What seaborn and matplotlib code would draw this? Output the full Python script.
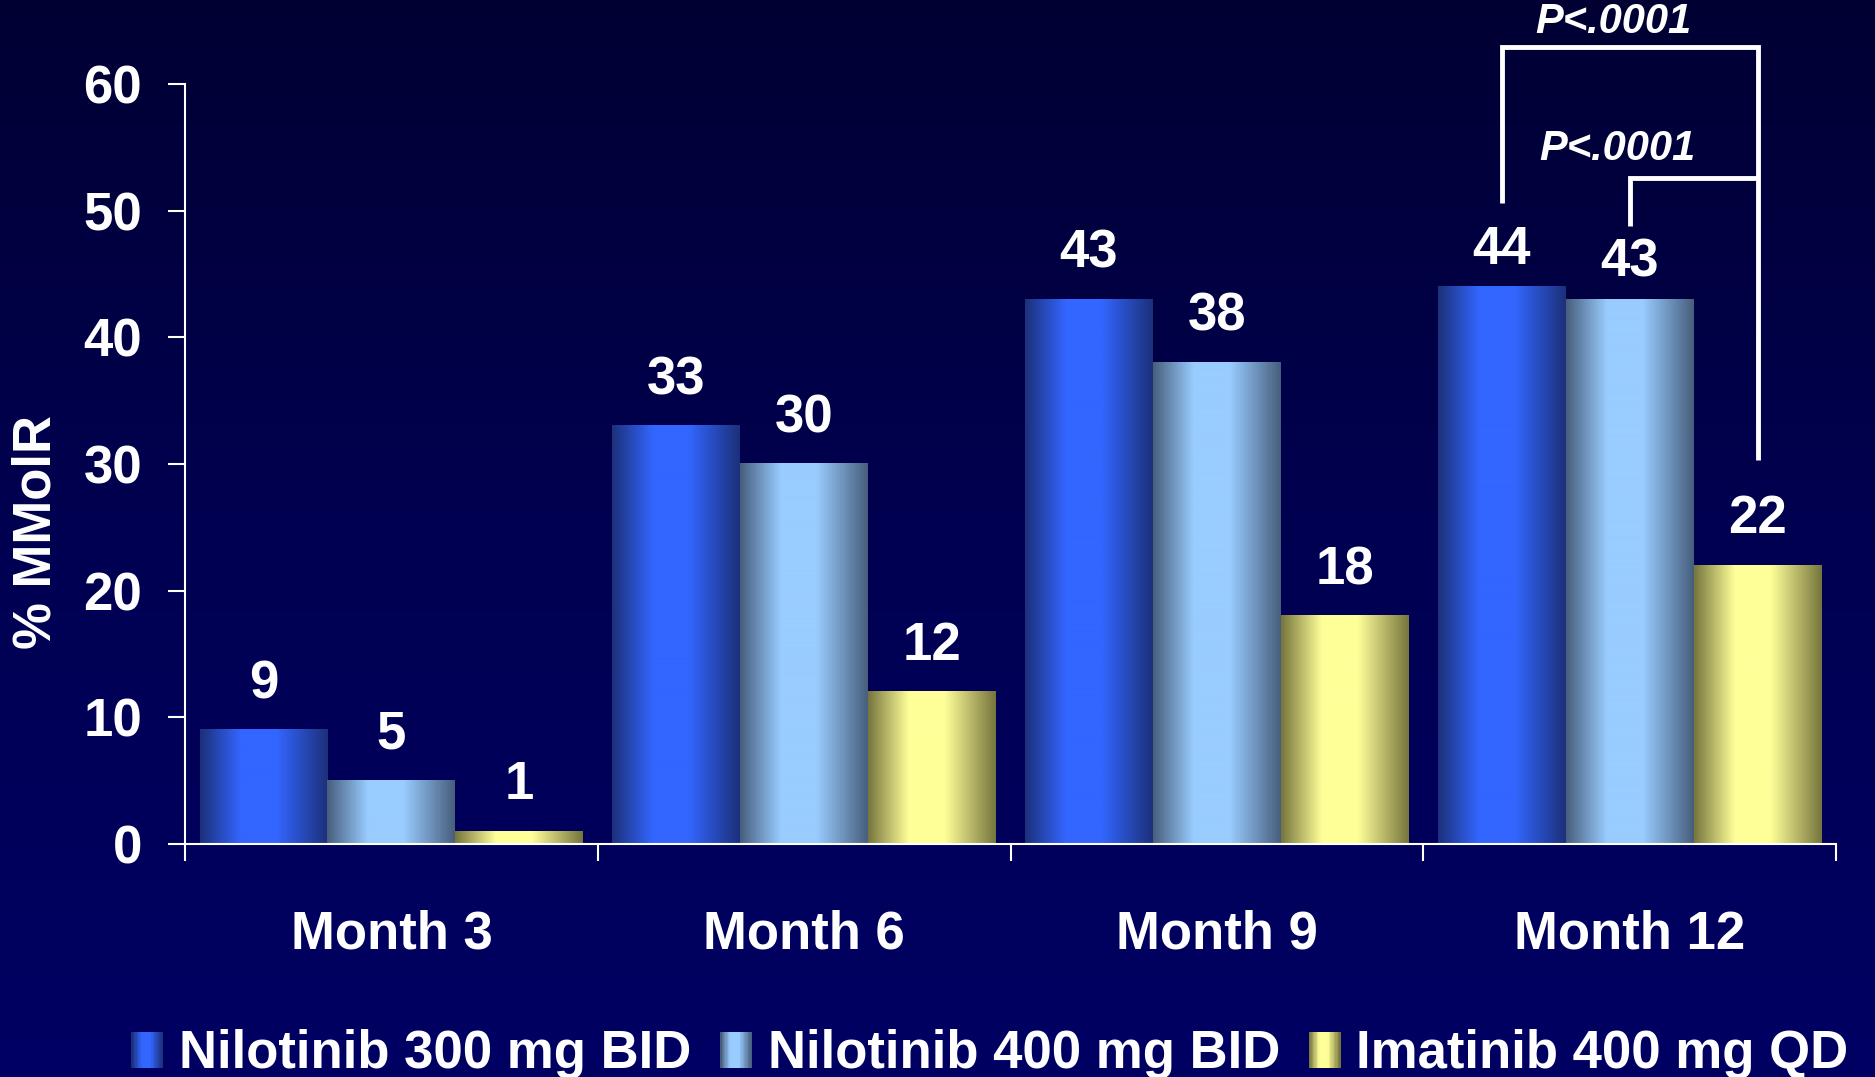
import numpy as np
import pandas as pd
import matplotlib
matplotlib.use("Agg")
import matplotlib.pyplot as plt
import seaborn as sns
from matplotlib.patches import Rectangle, Patch
from matplotlib.legend_handler import HandlerBase

# ---- data -------------------------------------------------------------
months = ["Month 3", "Month 6", "Month 9", "Month 12"]
regimens = ["Nilotinib 300 mg BID", "Nilotinib 400 mg BID", "Imatinib 400 mg QD"]
nilotinib_300 = [9, 33, 43, 44]
nilotinib_400 = [5, 30, 38, 43]
imatinib_400 = [1, 12, 18, 22]
y_ticks = [0, 10, 20, 30, 40, 50, 60]
y_label = "% MMolR"
p_label = "P<.0001"

df = pd.DataFrame({
    "month": months * 3,
    "regimen": np.repeat(regimens, len(months)),
    "value": nilotinib_300 + nilotinib_400 + imatinib_400,
})

# ---- style ------------------------------------------------------------
sns.set_style("white")
plt.rcParams["font.family"] = ["Liberation Sans", "DejaVu Sans"]
plt.rcParams["font.weight"] = "bold"
plt.rcParams["axes.labelweight"] = "bold"

FS = 38
WHITE = "white"

# edge colour / centre colour of each cylinder-like bar
shades = [
    ((0.11, 0.19, 0.48), (0.20, 0.40, 1.00)),
    ((0.28, 0.37, 0.49), (0.60, 0.80, 1.00)),
    ((0.46, 0.46, 0.24), (1.00, 1.00, 0.60)),
]


def shade_profile(n):
    x = np.linspace(0, 1, n)
    return np.interp(x, [0.0, 0.32, 0.60, 1.0], [0.0, 1.0, 1.0, 0.0])


def shade_row(edge, centre, n=256):
    t = shade_profile(n)[:, None]
    edge = np.array(edge)[None, :]
    centre = np.array(centre)[None, :]
    return (edge + (centre - edge) * t)[None, :, :]


class GradientHandler(HandlerBase):
    def __init__(self, edge, centre):
        super().__init__()
        self.edge = edge
        self.centre = centre

    def create_artists(self, legend, orig_handle, xdescent, ydescent,
                       width, height, fontsize, trans):
        n = 24
        row = shade_row(self.edge, self.centre, n)[0]
        arts = []
        for i in range(n):
            r = Rectangle((-xdescent + i * width / n, -ydescent),
                          width / n * 1.08, height,
                          facecolor=row[i], edgecolor="none",
                          transform=trans)
            arts.append(r)
        return arts


fig = plt.figure(figsize=(18.75, 10.77), dpi=100)

# navy backdrop, darker towards the top
bg = fig.add_axes([0, 0, 1, 1], zorder=-10)
yy = np.linspace(0, 1, 512)
blue = np.interp(yy, [0.0, 0.5, 1.0], [0.20, 0.32, 0.39])
bg_img = np.zeros((512, 1, 3))
bg_img[:, 0, 2] = blue
bg.imshow(bg_img, aspect="auto", extent=[0, 1, 0, 1], origin="upper")
bg.set_axis_off()

ax = fig.add_axes([0.0987, 0.2163, 0.8805, 0.7057])
ax.set_facecolor("none")

sns.barplot(data=df, x="month", y="value", hue="regimen",
            order=months, hue_order=regimens,
            palette=[c for _, c in shades], width=0.93, saturation=1,
            errorbar=None, legend=False, ax=ax)

# replace the flat fills with a horizontal shading
for container, (edge, centre) in zip(ax.containers, shades):
    for bar in container:
        x0, w, h = bar.get_x(), bar.get_width(), bar.get_height()
        ax.imshow(shade_row(edge, centre), extent=(x0, x0 + w, 0, h),
                  aspect="auto", interpolation="bilinear",
                  zorder=bar.get_zorder())
        bar.set_facecolor("none")
        bar.set_edgecolor("none")

ax.set_xlim(-0.5, len(months) - 0.5)
ax.set_ylim(0, 60)

# value labels; the two under the bracket sit a little lower
series = [nilotinib_300, nilotinib_400, imatinib_400]
tucked = {(0, 3), (1, 3)}
for k, (container, vals) in enumerate(zip(ax.containers, series)):
    for j, (bar, v) in enumerate(zip(container, vals)):
        off = 16.5 if (k, j) in tucked else 23
        ax.annotate(f"{v:g}", (bar.get_x() + bar.get_width() / 2, bar.get_height()),
                    xytext=(0, off), textcoords="offset points",
                    ha="center", va="baseline", fontsize=FS,
                    color=WHITE, fontweight="bold")

# significance brackets at Month 12
xb = ax.containers[0][3].get_x() + ax.containers[0][3].get_width() / 2
xl = ax.containers[1][3].get_x() + ax.containers[1][3].get_width() / 2
xy = ax.containers[2][3].get_x() + ax.containers[2][3].get_width() / 2
br = dict(color=WHITE, lw=3.5, clip_on=False, solid_joinstyle="miter",
          solid_capstyle="butt", zorder=5)
ax.plot([xb, xb, xy, xy], [50.6, 62.9, 62.9, 30.3], **br)
ax.plot([xl, xl, xy], [48.8, 52.6, 52.6], **br)
ax.text(2.96, 64.9, p_label, ha="center", va="center", fontsize=30,
        style="italic", fontweight="bold", color=WHITE, clip_on=False)
ax.text(2.97, 54.9, p_label, ha="center", va="center", fontsize=30,
        style="italic", fontweight="bold", color=WHITE, clip_on=False)

# axes styling
for s in ["top", "right"]:
    ax.spines[s].set_visible(False)
for s in ["left", "bottom"]:
    ax.spines[s].set_color(WHITE)
    ax.spines[s].set_linewidth(1.5)

ax.set_yticks(y_ticks)
ax.tick_params(axis="y", length=12, width=1.5, color=WHITE,
               labelsize=FS, labelcolor=WHITE, pad=19, left=True)
ax.set_xticks(range(len(months)))
ax.set_xticklabels(months)
ax.set_xticks(np.arange(-0.5, len(months)), minor=True)
ax.tick_params(axis="x", which="major", length=0, labelsize=FS,
               labelcolor=WHITE, pad=47)
ax.tick_params(axis="x", which="minor", length=12, width=1.5,
               color=WHITE, direction="out", bottom=True)
for lbl in ax.get_xticklabels() + ax.get_yticklabels():
    lbl.set_fontweight("bold")

ax.set_xlabel("")
ax.set_ylabel(y_label, fontsize=FS, color=WHITE, fontweight="bold", va="center")
ax.yaxis.set_label_coords(-0.0902, 0.4105)

# legend with shaded swatches
handles = [Patch(label=r) for r in regimens]
hmap = {h: GradientHandler(e, c) for h, (e, c) in zip(handles, shades)}
fig.legend(handles, regimens, handler_map=hmap, loc="center",
           bbox_to_anchor=(0.528, 0.0209), ncol=3, frameon=False,
           prop={"size": FS, "weight": "bold"}, labelcolor=WHITE,
           handlelength=0.6, handleheight=0.7, handletextpad=0.3,
           columnspacing=0.55, borderpad=0, borderaxespad=0)

fig.savefig("out.png", dpi=100)
